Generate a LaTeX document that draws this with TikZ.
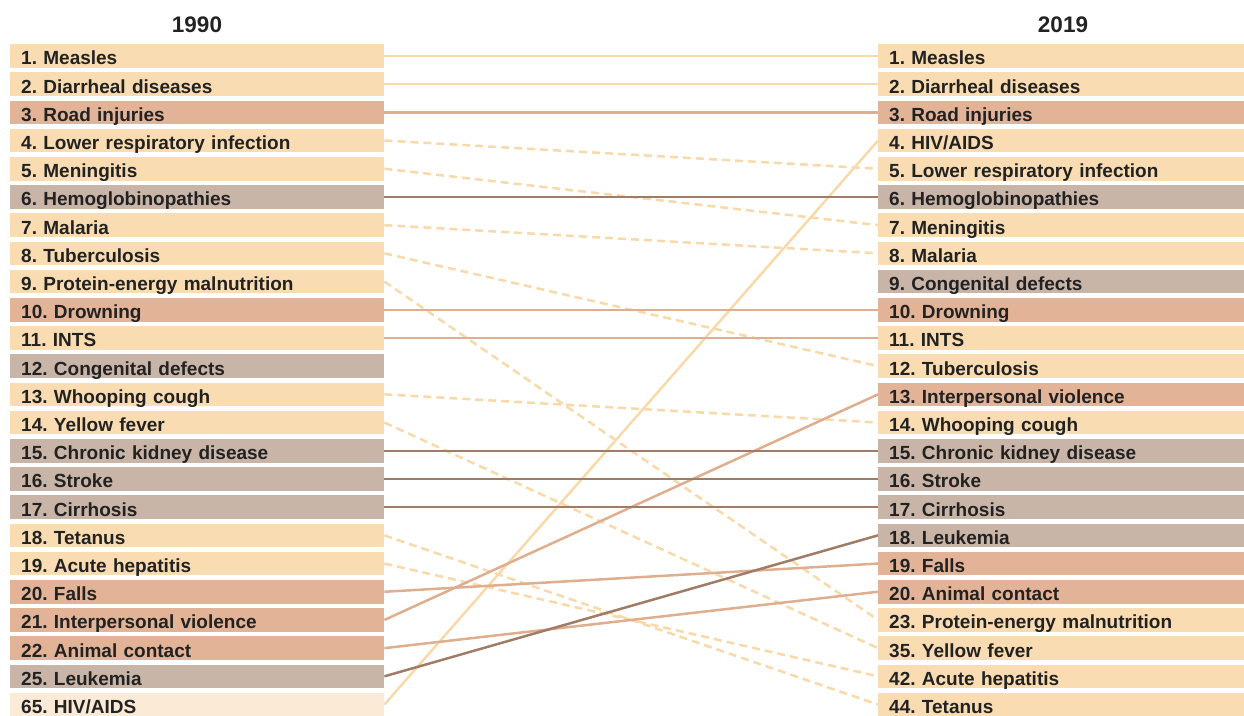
\documentclass[tikz,border=0pt]{standalone}
\usepackage{fontspec}
\setmainfont{Liberation Sans}
\frenchspacing
\definecolor{peach}{HTML}{F9DCB1}
\definecolor{salmon}{HTML}{E2B396}
\definecolor{taupe}{HTML}{C9B5A7}
\definecolor{pale}{HTML}{FBEBD6}
\definecolor{inkdark}{HTML}{222222}
\definecolor{lnlight}{HTML}{F8D9A9}
\definecolor{lnsalmon}{HTML}{DEAE8E}
\definecolor{lndark}{HTML}{A07C66}
\begin{document}
\begin{tikzpicture}[x=1pt,y=-1pt,
  rowbox/.style={draw=none, anchor=north west, inner xsep=11pt, inner ysep=0pt,
    minimum height=23.5pt, text height=20.7pt, text depth=2.8pt, align=left,
    text=inkdark, font=\bfseries\fontsize{19}{22}\selectfont},
  lbox/.style={rowbox, text width=352pt},
  rbox/.style={rowbox, text width=344pt},
  yeartitle/.style={anchor=base, text=inkdark, inner sep=0pt, font=\bfseries\fontsize{22.5}{26}\selectfont},
  lightline/.style={draw=lnlight, line width=2.5pt},
  salmonline/.style={draw=lnsalmon, line width=2.5pt},
  darkline/.style={draw=lndark, line width=2.5pt},
  movedline/.style={draw=lnlight, line width=2.5pt, dash pattern=on 8pt off 5pt}]
\useasboundingbox (0,0) rectangle (1244,715);

% column headings
\node[yeartitle] (y1990) at (197,32) {1990};
\node[yeartitle] (y2019) at (1063,32) {2019};

% 1990 ranking
\foreach \i/\txt/\col in {
  1/{1. Measles}/peach, 2/{2. Diarrheal diseases}/peach, 3/{3. Road injuries}/salmon,
  4/{4. Lower respiratory infection}/peach, 5/{5. Meningitis}/peach,
  6/{6. Hemoglobinopathies}/taupe, 7/{7. Malaria}/peach, 8/{8. Tuberculosis}/peach,
  9/{9. Protein-energy malnutrition}/peach, 10/{10. Drowning}/salmon,
  11/{11. INTS}/peach, 12/{12. Congenital defects}/taupe, 13/{13. Whooping cough}/peach,
  14/{14. Yellow fever}/peach, 15/{15. Chronic kidney disease}/taupe,
  16/{16. Stroke}/taupe, 17/{17. Cirrhosis}/taupe, 18/{18. Tetanus}/peach,
  19/{19. Acute hepatitis}/peach, 20/{20. Falls}/salmon,
  21/{21. Interpersonal violence}/salmon, 22/{22. Animal contact}/salmon,
  23/{25. Leukemia}/taupe, 24/{65. HIV/AIDS}/pale} {
  \node[lbox, fill=\col] (L\i) at (10,{44+(\i-1)*28.2}) {\txt};
}

% 2019 ranking
\foreach \i/\txt/\col in {
  1/{1. Measles}/peach, 2/{2. Diarrheal diseases}/peach, 3/{3. Road injuries}/salmon,
  4/{4. HIV/AIDS}/peach, 5/{5. Lower respiratory infection}/peach,
  6/{6. Hemoglobinopathies}/taupe, 7/{7. Meningitis}/peach, 8/{8. Malaria}/peach,
  9/{9. Congenital defects}/taupe, 10/{10. Drowning}/salmon, 11/{11. INTS}/peach,
  12/{12. Tuberculosis}/peach, 13/{13. Interpersonal violence}/salmon,
  14/{14. Whooping cough}/peach, 15/{15. Chronic kidney disease}/taupe,
  16/{16. Stroke}/taupe, 17/{17. Cirrhosis}/taupe, 18/{18. Leukemia}/taupe,
  19/{19. Falls}/salmon, 20/{20. Animal contact}/salmon,
  21/{23. Protein-energy malnutrition}/peach, 22/{35. Yellow fever}/peach,
  23/{42. Acute hepatitis}/peach, 24/{44. Tetanus}/peach} {
  \node[rbox, fill=\col] (R\i) at (878,{44+(\i-1)*28.2}) {\txt};
}

% rank changes between the two years
\foreach \a/\b/\sty in {
  4/5/movedline, 5/7/movedline, 7/8/movedline, 8/12/movedline, 9/21/movedline,
  13/14/movedline, 14/22/movedline, 18/24/movedline, 19/23/movedline,
  1/1/lightline, 2/2/lightline, 24/4/lightline,
  3/3/salmonline, 10/10/salmonline, 11/11/salmonline, 20/19/salmonline,
  21/13/salmonline, 22/20/salmonline,
  6/6/darkline, 15/15/darkline, 16/16/darkline, 17/17/darkline, 23/18/darkline} {
  \draw[\sty] (L\a.east) -- (R\b.west);
}
\end{tikzpicture}
\end{document}
